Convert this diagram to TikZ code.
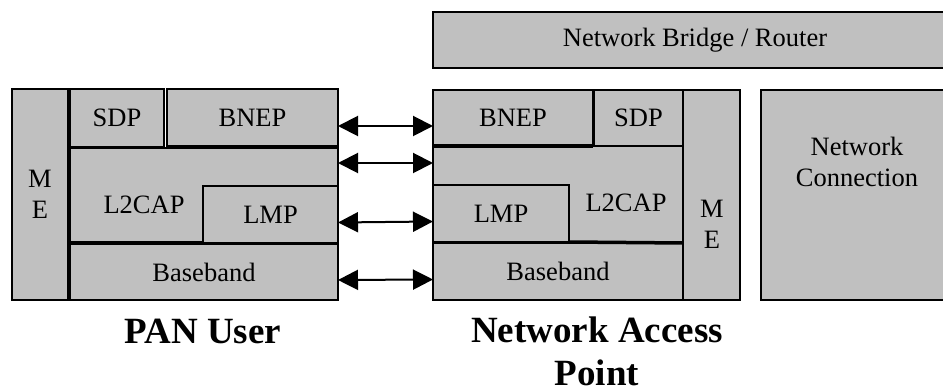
\documentclass[tikz,border=0pt]{standalone}
\usepackage{fontspec}
\setmainfont{Liberation Serif}
\usepackage{xcolor}
\definecolor{boxgray}{HTML}{C0C0C0}
\usetikzlibrary{arrows.meta,calc}

\begin{document}
\begin{tikzpicture}[x=1pt, y=-1pt, layer/.style={
    	rectangle, draw = black, fill = boxgray, line width = 1.5pt,
    	inner sep = 0pt, outer sep = 0pt, anchor = north west, align = center,
    	font = \fontsize{26.5}{31}\selectfont},
    	txt/.style={inner sep = 0pt, align = center, font = \fontsize{26.5}{31}\selectfont},
    	heavy/.style={line width = 3.5pt},
    	link/.style={line width = 2pt,
    	{Triangle[length=20pt,width=20pt]}-{Triangle[length=20pt,width=20pt]}},
    	caption/.style={inner sep = 0pt, align = center,
    	font = \fontsize{37}{43}\selectfont\bfseries}]
    	\useasboundingbox (0,0) rectangle (943,390);
    	% PAN user stack
    	\node (meL) [layer, minimum width=56, minimum height=211] at (12,89) {M\\E};
    	\node (sdpL) [layer, minimum width=94, minimum height=58] at (70,89) {SDP};
    	\node (bnepL) [layer, minimum width=171, minimum height=58] at (167,89) {BNEP};
    	\node (l2capL) [layer, minimum width=268, minimum height=95] at (70,148) {};
    	\node (lmpL) [layer, minimum width=135, minimum height=57] at (203,186) {LMP};
    	\node (baseL) [layer, minimum width=268, minimum height=56] at (70,244) {Baseband};
    	\node (l2capLtxt) [txt] at (144,205) {L2CAP};
    	\draw[heavy] (bnepL.south west) -- (bnepL.south east);
    	\draw[heavy] (l2capL.south west) -- (lmpL.south west);
    	% access point stack
    	\node (bridge) [layer, minimum width=524, minimum height=56] at (433,12) {Network Bridge / Router};
    	\node (bnepR) [layer, minimum width=160, minimum height=56] at (433,90) {BNEP};
    	\node (sdpR) [layer, minimum width=89, minimum height=56] at (594,90) {SDP};
    	\node (meR) [layer, minimum width=57, minimum height=210] at (683,90) {};
    	\node (l2capR) [layer, minimum width=250, minimum height=97] at (433,146) {};
    	\node (lmpR) [layer, minimum width=136, minimum height=57] at (433,185) {LMP};
    	\node (baseR) [layer, minimum width=250, minimum height=57] at (433,243) {Baseband};
    	\node (netconn) [layer, minimum width=192, minimum height=210] at (761,90) {};
    	\node (l2capRtxt) [txt] at (626,203) {L2CAP};
    	\node (meRtxt) [txt] at (712,224) {M\\E};
    	\node (netconntxt) [txt] at (857,162) {Network\\Connection};
    	\draw[heavy] (bnepR.south west) -- (bnepR.south east);
    	\draw[heavy] (lmpR.south east) -- (l2capR.south east);
    	% peer links
    	\draw[link] ($(bnepL.east)+(0,8)$) -- ($(bnepR.west)+(0,8)$);
    	\draw[link] ($(l2capL.north east)+(0,15)$) -- ($(l2capR.north west)+(0,17)$);
    	\draw[link] ($(lmpL.east)+(0,8)$) -- ($(lmpR.west)+(0,8)$);
    	\draw[link] ($(baseL.east)+(0,8)$) -- ($(baseR.west)+(0,8)$);
    	% captions
    	\node (user) [caption, anchor=base] at (203,343) {PAN User};
    	\node (nap) [caption, anchor=south] at (597,386) {Network Access\\Point};
\end{tikzpicture}
\end{document}
